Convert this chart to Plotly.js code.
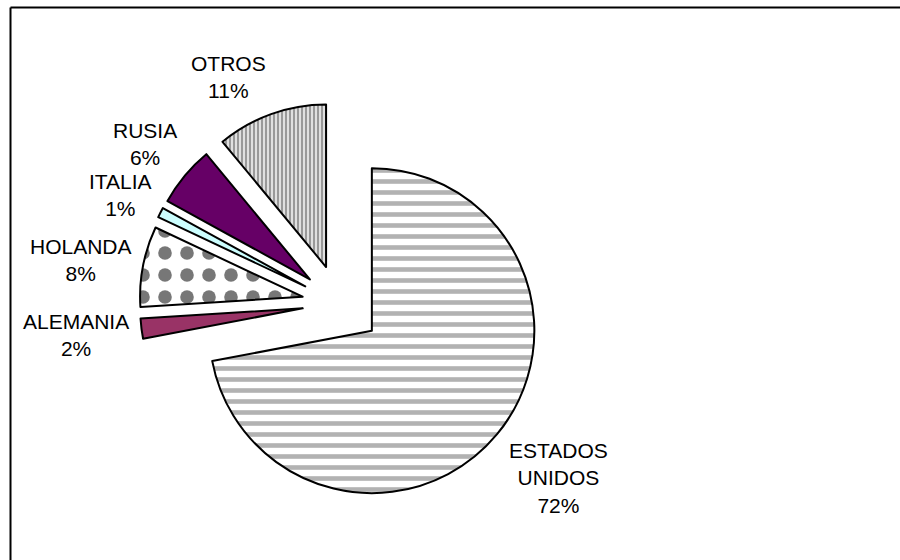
<!DOCTYPE html>
<html>
<head>
<meta charset="utf-8">
<script src="https://cdn.plot.ly/plotly-3.0.1.min.js"></script>
<style>
  html, body { margin: 0; padding: 0; background: #ffffff; overflow: hidden; }
  #chart { width: 900px; height: 560px; overflow: hidden; }
</style>
</head>
<body>
<div id="chart"></div>
<script>
// ---- data ----
const categories = ['ESTADOS UNIDOS', 'ALEMANIA', 'HOLANDA', 'ITALIA', 'RUSIA', 'OTROS'];
const shares = [72, 2, 8, 1, 6, 11];

// ---- styles ----
const sliceColors = ['#ffffff', '#993366', '#ffffff', '#ccffff', '#660066', '#ffffff'];
const patternShapes = ['-', '', '.', '', '', '|'];
const patternFg = ['#b2b2b2', '#993366', '#777777', '#ccffff', '#660066', '#999999'];
const pulls = [0.26, 0.227, 0.23, 0.235, 0.235, 0.24];
// label anchor positions in px (centre of text block)
const labelPos = [[558, 478], [76, 335], [81, 260], [120, 195], [145, 144], [229, 77]];

const W = 900, H = 560;
const total = shares.reduce((a, b) => a + b, 0);

const trace = {
  type: 'pie',
  labels: categories,
  values: shares,
  sort: false,
  direction: 'clockwise',
  rotation: 0,
  pull: pulls,
  textinfo: 'none',
  hoverinfo: 'label+percent',
  showlegend: false,
  domain: { x: [0.1495, 0.6045], y: [0.0920, 0.8233] },
  marker: {
    colors: sliceColors,
    line: { color: '#000000', width: 2 },
    pattern: {
      shape: patternShapes,
      fgcolor: patternFg,
      bgcolor: sliceColors,
      size: [11, 8, 22, 8, 8, 4],
      solidity: [0.42, 0.3, 0.3, 0.3, 0.3, 0.65],
      fillmode: 'replace'
    }
  }
};

const annotations = categories.map((c, i) => ({
  xref: 'paper', yref: 'paper',
  x: labelPos[i][0] / W,
  y: 1 - labelPos[i][1] / H,
  xanchor: 'center', yanchor: 'middle',
  showarrow: false,
  align: 'center',
  text: c.split(' ').join('<br>') + '<br>' + Math.round(shares[i] / total * 100) + '%',
  font: { family: 'Liberation Sans, Arial, sans-serif', size: 21, color: '#000000' }
}));

const layout = {
  width: W, height: H,
  margin: { l: 0, r: 0, t: 0, b: 0 },
  paper_bgcolor: '#ffffff',
  plot_bgcolor: '#ffffff',
  annotations: annotations,
  shapes: [
    { type: 'line', xref: 'paper', yref: 'paper',
      x0: 10.5 / W, x1: 1, y0: 1 - 7.5 / H, y1: 1 - 7.5 / H,
      line: { color: '#000000', width: 2 } },
    { type: 'line', xref: 'paper', yref: 'paper',
      x0: 10.5 / W, x1: 10.5 / W, y0: 0, y1: 1 - 7.5 / H,
      line: { color: '#000000', width: 2 } }
  ]
};

Plotly.newPlot('chart', [trace], layout, { displayModeBar: false, staticPlot: true });
</script>
</body>
</html>
